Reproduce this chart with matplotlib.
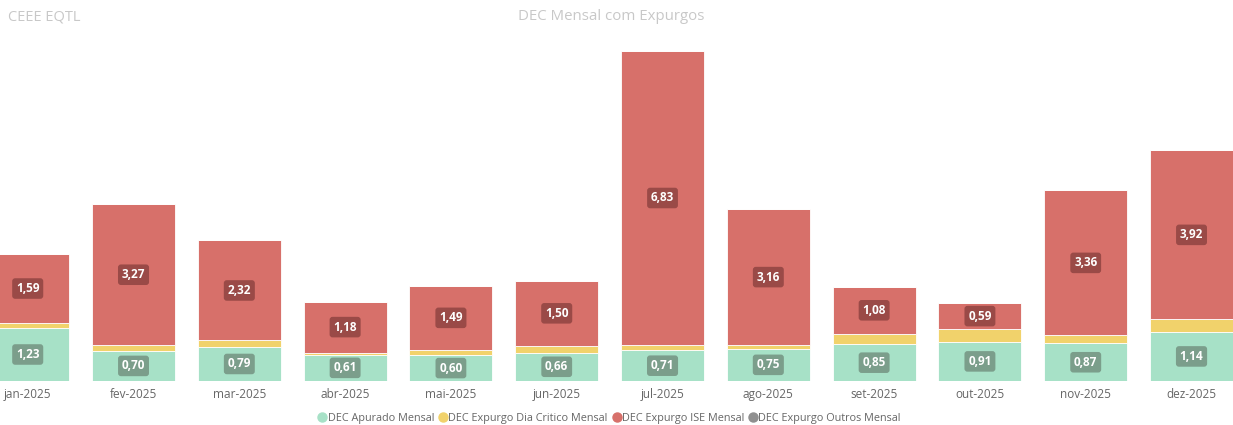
import matplotlib
matplotlib.use("Agg")
import matplotlib.pyplot as plt
from matplotlib.lines import Line2D
import numpy as np

plt.rcParams['font.family'] = ['Open Sans', 'DejaVu Sans']

months = ["jan-2025", "fev-2025", "mar-2025", "abr-2025", "mai-2025", "jun-2025",
          "jul-2025", "ago-2025", "set-2025", "out-2025", "nov-2025", "dez-2025"]
apurado = [1.23, 0.70, 0.79, 0.61, 0.60, 0.66, 0.71, 0.75, 0.85, 0.91, 0.87, 1.14]
dia_critico = [0.12, 0.13, 0.15, 0.05, 0.12, 0.16, 0.12, 0.08, 0.25, 0.30, 0.19, 0.29]
ise = [1.59, 3.27, 2.32, 1.18, 1.49, 1.50, 6.83, 3.16, 1.08, 0.59, 3.36, 3.92]
outros = [0.0] * 12

series_names = ["DEC Apurado Mensal", "DEC Expurgo Dia Critico Mensal",
                "DEC Expurgo ISE Mensal", "DEC Expurgo Outros Mensal"]
colors = ["#A7E1C7", "#F1D26B", "#D7706A", "#8F8F8F"]
label_box = {0: "#7B9E8B", 2: "#9A4A47"}

W, H = 1233, 425
fig = plt.figure(figsize=(W / 100, H / 100), dpi=100)
ax = fig.add_axes([0, 44 / H, 1, 341 / H])

x = np.arange(len(months))
bottom = np.zeros(len(months))
data = [apurado, dia_critico, ise, outros]
for si, vals in enumerate(data):
    vals = np.array(vals)
    ax.bar(x, vals, width=0.785, bottom=bottom, color=colors[si],
           edgecolor="white", linewidth=0.6, zorder=2)
    if si in label_box:
        for xi, (b, v) in enumerate(zip(bottom, vals)):
            ax.text(xi, b + v / 2, f"{v:.2f}".replace(".", ","),
                    ha="center", va="center", color="white", fontsize=8.5,
                    fontweight="bold", zorder=3,
                    bbox=dict(boxstyle="round,pad=0.32,rounding_size=0.25",
                              fc=label_box[si], ec="none"))
    bottom = bottom + vals

ax.set_xlim(-0.262, 11.392)
ax.set_ylim(0, 7.91)
ax.set_xticks(x)
ax.set_xticklabels(months, fontsize=8.5, color="#666666")
ax.tick_params(axis="x", length=0, pad=5)
ax.set_yticks([])
for s in ax.spines.values():
    s.set_visible(False)

fig.text(8 / W, 1 - 17 / H, "CEEE EQTL", fontsize=10.5, color="#C8C8C8",
         ha="left", va="center")
fig.text(611 / W, 1 - 17 / H, "DEC Mensal com Expurgos", fontsize=10.8,
         color="#C8C8C8", ha="center", va="center")

handles = [Line2D([0], [0], marker="o", linestyle="none", markersize=6.5,
                  markerfacecolor=c, markeredgecolor=c) for c in colors]
fig.legend(handles, series_names, loc="center", bbox_to_anchor=(609 / W, 1 - 418 / H),
           ncol=4, frameon=False, fontsize=7.8, labelcolor="#666666",
           handletextpad=0.0, columnspacing=0.3, handlelength=1.0)

fig.savefig("out.png", dpi=100)
